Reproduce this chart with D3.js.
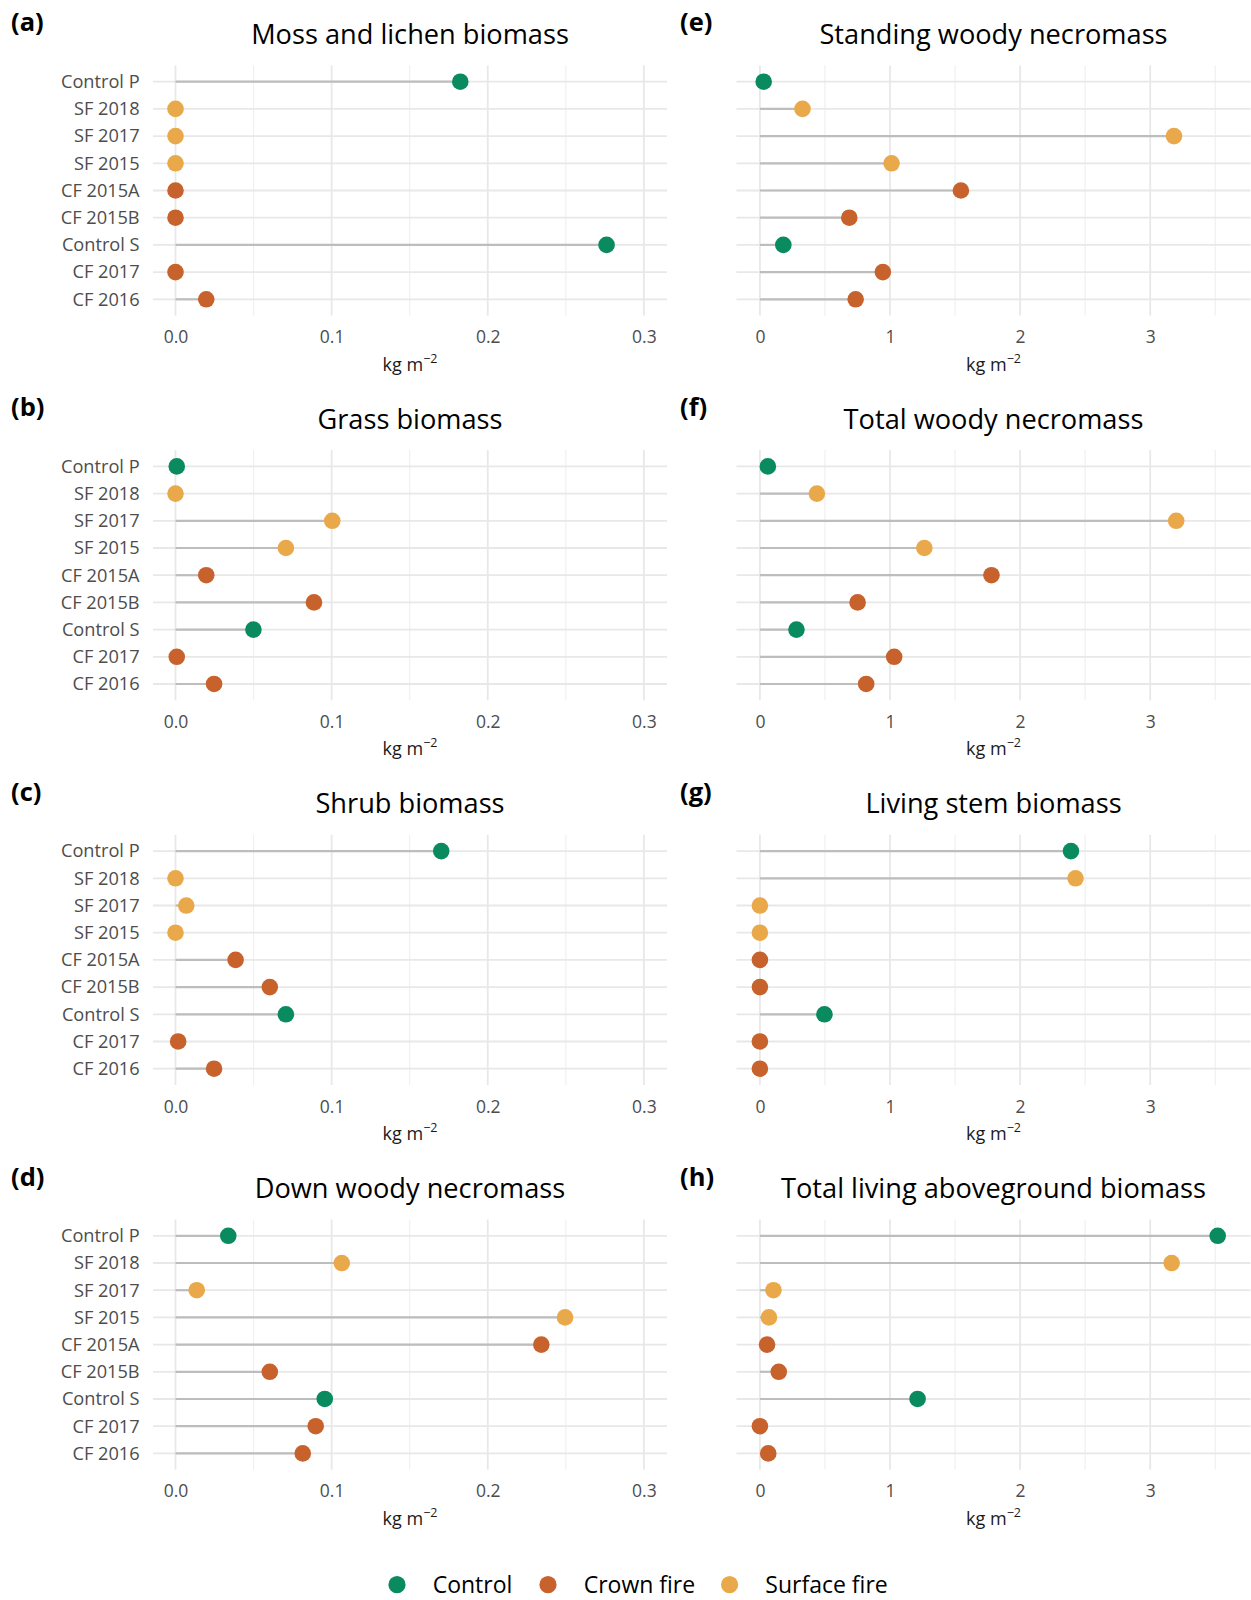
<!DOCTYPE html>
<html>
<head>
<meta charset="utf-8">
<script src="https://cdn.jsdelivr.net/npm/d3@7"></script>
<style>
  html, body { margin: 0; padding: 0; background: #fff; }
  svg { display: block; font-family: "Open Sans", "Noto Sans", sans-serif; }
</style>
</head>
<body>
<svg id="chart" width="1251" height="1600"></svg>
<script>
// Plots, top to bottom
const sites = ["Control P", "SF 2018", "SF 2017", "SF 2015", "CF 2015A", "CF 2015B", "Control S", "CF 2017", "CF 2016"];
const siteGroup = ["Control", "Surface fire", "Surface fire", "Surface fire", "Crown fire", "Crown fire", "Control", "Crown fire", "Crown fire"];

// Pools (kg m-2), values in the same order as sites
const mossLichen   = [0.1824, 0, 0, 0, 0, 0, 0.2761, 0, 0.0197];
const grass        = [0.0008, 0, 0.1004, 0.0707, 0.0197, 0.0887, 0.0499, 0.0008, 0.0247];
const shrub        = [0.1702, 0, 0.0069, 0, 0.0385, 0.0604, 0.0707, 0.0017, 0.0247];
const downWoody    = [0.0338, 0.1065, 0.0136, 0.2495, 0.2343, 0.0604, 0.0956, 0.0898, 0.0815];
const standingWoody = [0.029, 0.3275, 3.183, 1.012, 1.545, 0.687, 0.18, 0.945, 0.736];
const totalWoody   = [0.061, 0.438, 3.200, 1.264, 1.780, 0.751, 0.281, 1.032, 0.817];
const livingStem   = [2.391, 2.426, 0, 0, 0, 0, 0.496, 0, 0];
const totalLiving  = [3.519, 3.165, 0.104, 0.0696, 0.055, 0.145, 1.212, 0, 0.064];

const panelTitles = ["Moss and lichen biomass", "Grass biomass", "Shrub biomass", "Down woody necromass",
                     "Standing woody necromass", "Total woody necromass", "Living stem biomass", "Total living aboveground biomass"];
const panelTags = ["(a)", "(b)", "(c)", "(d)", "(e)", "(f)", "(g)", "(h)"];
const panelValues = [mossLichen, grass, shrub, downWoody, standingWoody, totalWoody, livingStem, totalLiving];

const groups = ["Control", "Crown fire", "Surface fire"];
const groupColors = ["#0a8a5f", "#c8622c", "#e9a94b"];

// Column x-scales: the left column shares 0–0.3, the right column 0–3
const leftTicks = [0, 0.1, 0.2, 0.3];
const leftMinor = [0.05, 0.15, 0.25];
const rightTicks = [0, 1, 2, 3];
const rightMinor = [0.5, 1.5, 2.5, 3.5];

const svg = d3.select("#chart");
const color = d3.scaleOrdinal().domain(groups).range(groupColors);

const columns = [
  { x0: 153, x1: 667, domain: [-0.01441, 0.3148], ticks: leftTicks, minor: leftMinor, fmt: d3.format(".1f"), labels: true },
  { x0: 736.5, x1: 1250.5, domain: [-0.1799, 3.771], ticks: rightTicks, minor: rightMinor, fmt: d3.format("d"), labels: false }
];

const rowTop0 = 65.4, rowStep = 384.7, plotH = 250.2;

panelValues.forEach((vals, i) => {
  const col = columns[Math.floor(i / 4)];
  const row = i % 4;
  const top = rowTop0 + row * rowStep;

  const x = d3.scaleLinear().domain(col.domain).range([col.x0, col.x1]);
  const y = d3.scalePoint().domain(sites).range([top, top + plotH]).padding(0.6);

  const g = svg.append("g");

  // minor grid
  g.selectAll(".minor").data(col.minor).join("line")
    .attr("x1", d => x(d)).attr("x2", d => x(d))
    .attr("y1", top).attr("y2", top + plotH)
    .attr("stroke", "#f0f0f0").attr("stroke-width", 1.2);

  // major grid
  g.selectAll(".majx").data(col.ticks).join("line")
    .attr("x1", d => x(d)).attr("x2", d => x(d))
    .attr("y1", top).attr("y2", top + plotH)
    .attr("stroke", "#e8e8e8").attr("stroke-width", 1.8);
  g.selectAll(".majy").data(sites).join("line")
    .attr("x1", col.x0).attr("x2", col.x1)
    .attr("y1", d => y(d)).attr("y2", d => y(d))
    .attr("stroke", "#e8e8e8").attr("stroke-width", 1.8);

  // x axis tick labels
  const xAxis = d3.axisBottom(x).tickValues(col.ticks).tickFormat(col.fmt).tickSize(0).tickPadding(0);
  const ax = g.append("g").attr("transform", `translate(0,${top + plotH + 27.5})`).call(xAxis);
  ax.select(".domain").remove();
  ax.selectAll("text").attr("fill", "#4d4d4d").attr("font-size", 17.5).attr("font-family", "Open Sans").attr("dy", 0);

  // y axis labels (left column only)
  if (col.labels) {
    const yAxis = d3.axisLeft(y).tickSize(0).tickPadding(0);
    const ay = g.append("g").attr("transform", `translate(${139.6},0)`).call(yAxis);
    ay.select(".domain").remove();
    ay.selectAll("text").attr("fill", "#4d4d4d").attr("font-size", 18.2).attr("font-family", "Open Sans");
  }

  // axis title
  const midX = (col.x0 + col.x1) / 2;
  const at = g.append("text").attr("x", midX).attr("y", top + plotH + 55)
    .attr("text-anchor", "middle").attr("font-size", 18).attr("fill", "#1a1a1a");
  at.append("tspan").text("kg m");
  at.append("tspan").attr("dy", -8).attr("font-size", 12.5).text("\u22122");

  // panel title and tag
  g.append("text").attr("x", midX).attr("y", top - 21.5)
    .attr("text-anchor", "middle").attr("font-size", 27.2).attr("fill", "#000")
    .text(panelTitles[i]);
  g.append("text").attr("x", i < 4 ? 11 : 680).attr("y", top - 34)
    .attr("font-size", 25.5).attr("font-weight", "bold").attr("fill", "#000")
    .text(panelTags[i]);

  // lollipop stems
  const data = sites.map((s, k) => ({ site: s, group: siteGroup[k], value: vals[k] }));
  g.selectAll(".stem").data(data).join("line")
    .attr("x1", x(0)).attr("x2", d => x(d.value))
    .attr("y1", d => y(d.site)).attr("y2", d => y(d.site))
    .attr("stroke", "#bdbdbd").attr("stroke-width", 2.2);

  // points
  g.selectAll(".pt").data(data).join("circle")
    .attr("cx", d => x(d.value)).attr("cy", d => y(d.site)).attr("r", 8.3)
    .attr("fill", d => color(d.group));
});

// legend
const legendX = [397, 548, 729.6];
const legendY = 1584.7;
const lg = svg.append("g");
groups.forEach((grp, k) => {
  lg.append("circle").attr("cx", legendX[k]).attr("cy", legendY).attr("r", 8.6).attr("fill", color(grp));
  lg.append("text").attr("x", legendX[k] + 35.7).attr("y", legendY).attr("dy", "0.35em")
    .attr("font-size", 23).attr("fill", "#000").text(grp);
});
</script>
</body>
</html>
